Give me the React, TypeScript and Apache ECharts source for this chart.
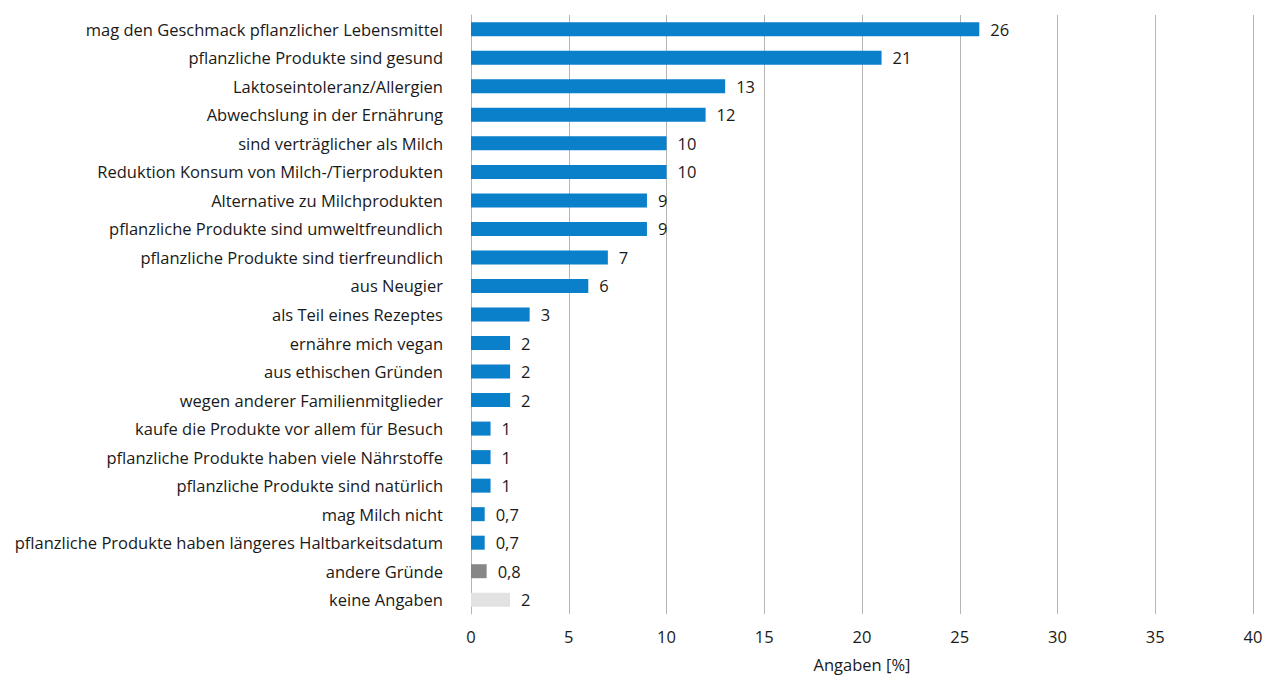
import React, { useEffect, useRef } from "react";
import * as echarts from "echarts";

const categories = [
  "mag den Geschmack pflanzlicher Lebensmittel",
  "pflanzliche Produkte sind gesund",
  "Laktoseintoleranz/Allergien",
  "Abwechslung in der Ernährung",
  "sind verträglicher als Milch",
  "Reduktion Konsum von Milch-/Tierprodukten",
  "Alternative zu Milchprodukten",
  "pflanzliche Produkte sind umweltfreundlich",
  "pflanzliche Produkte sind tierfreundlich",
  "aus Neugier",
  "als Teil eines Rezeptes",
  "ernähre mich vegan",
  "aus ethischen Gründen",
  "wegen anderer Familienmitglieder",
  "kaufe die Produkte vor allem für Besuch",
  "pflanzliche Produkte haben viele Nährstoffe",
  "pflanzliche Produkte sind natürlich",
  "mag Milch nicht",
  "pflanzliche Produkte haben längeres Haltbarkeitsdatum",
  "andere Gründe",
  "keine Angaben",
];

const values = [26, 21, 13, 12, 10, 10, 9, 9, 7, 6, 3, 2, 2, 2, 1, 1, 1, 0.7, 0.7, 0.8, 2];

const groups = [
  "reason", "reason", "reason", "reason", "reason", "reason", "reason",
  "reason", "reason", "reason", "reason", "reason", "reason", "reason",
  "reason", "reason", "reason", "reason", "reason", "other", "none",
];

const groupColors: Record<string, string> = {
  reason: "#0a7fca",
  other: "#878787",
  none: "#e1e2e1",
};

const xTicks = { min: 0, max: 40, interval: 5 };

const FONT = "'Open Sans', sans-serif";
const FS = 16.5;

export default function App() {
  const ref = useRef<HTMLDivElement>(null);
  useEffect(() => {
    if (!ref.current) return;
    const chart = echarts.init(ref.current, null, { renderer: "svg" });
    chart.setOption({
      animation: false,
      textStyle: { fontFamily: FONT },
      grid: { left: 471, right: 13, top: 15, bottom: 63, containLabel: false },
      xAxis: {
        type: "value",
        min: xTicks.min,
        max: xTicks.max,
        interval: xTicks.interval,
        name: "Angaben [%]",
        nameLocation: "middle",
        nameGap: 42,
        nameTextStyle: { fontSize: FS, color: "#1a1a1a", fontFamily: FONT },
        axisLine: { show: false },
        axisTick: { show: false },
        axisLabel: { fontSize: FS, color: "#1a1a1a", margin: 14, fontFamily: FONT },
        splitLine: { show: true, lineStyle: { color: "#b5b5b5", width: 1 } },
      },
      yAxis: {
        type: "category",
        data: categories,
        inverse: true,
        axisLine: { show: true, lineStyle: { color: "#b5b5b5", width: 1 } },
        axisTick: { show: false },
        axisLabel: { fontSize: FS, color: "#1a1a1a", margin: 28, fontFamily: FONT },
      },
      series: [
        {
          type: "bar",
          barWidth: 14,
          data: values.map((v, i) => ({
            value: v,
            itemStyle: { color: groupColors[groups[i]] },
          })),
          label: {
            show: true,
            position: "right",
            distance: 11,
            fontSize: FS,
            color: "#1a1a1a",
            fontFamily: FONT,
            formatter: (p: any) => String(p.value).replace(".", ","),
          },
        },
      ],
    });
    return () => chart.dispose();
  }, []);
  return (
    <div
      ref={ref}
      style={{ position: "absolute", left: 0, top: 0, width: 1266, height: 678 }}
    />
  );
}
